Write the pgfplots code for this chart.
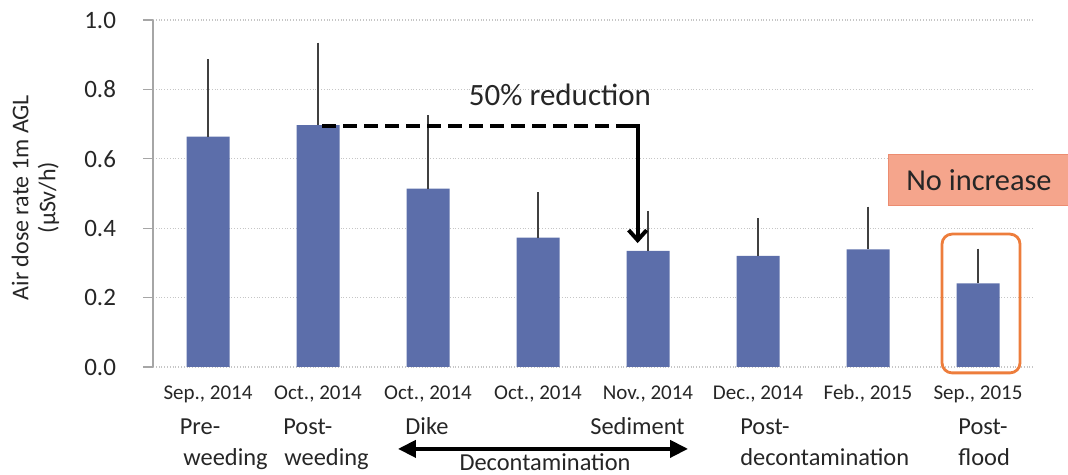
\documentclass[border=0pt]{standalone}
\usepackage{fontspec}
\setmainfont{Carlito}
\usepackage{pgfplots}
\pgfplotsset{compat=1.18}
\usetikzlibrary{arrows.meta}
\definecolor{barblue}{RGB}{92,110,170}
\definecolor{boxorange}{RGB}{237,125,60}
\definecolor{salmon}{RGB}{245,165,140}
\definecolor{salmonedge}{RGB}{236,140,112}
\begin{document}
\begin{tikzpicture}
\path[use as bounding box] (0,0) rectangle (534pt,237.5pt);
\begin{axis}[
  at={(76.5pt,54pt)}, anchor=south west,
  scale only axis, width=440pt, height=173.5pt,
  xmin=-0.5, xmax=7.5, ymin=0, ymax=1.0,
  axis x line=bottom, axis y line=left,
  axis line style={-},
  x axis line style={draw=none},
  y axis line style={gray!70, line width=0.6pt},
  ytick={0,0.2,...,1.0},
  /pgf/number format/fixed, /pgf/number format/fixed zerofill, /pgf/number format/precision=1,
  /pgf/number format/assume math mode=true,
  yticklabel style={font=\fontsize{12.5}{14}\selectfont, text=black!85, xshift=-10pt},
  tick align=outside, major tick length=5pt,
  ytick style={gray!70, line width=0.6pt},
  xtick={0,...,7}, xtick style={draw=none},
  xticklabels={{Sep., 2014},{Oct., 2014},{Oct., 2014},{Oct., 2014},{Nov., 2014},{Dec., 2014},{Feb., 2015},{Sep., 2015}},
  xticklabel style={font=\fontsize{10.5}{12}\selectfont, text=black!85, anchor=base, yshift=-11pt},
  ymajorgrids, major grid style={gray!45, densely dotted, line width=0.6pt},
  clip=false,
]
\addplot[ybar, bar width=21.5pt, fill=barblue, draw=none,
  error bars/.cd, y dir=plus, y explicit, error mark=none,
  error bar style={line width=0.6pt, black!75}]
  table[x=x, y=y, y error=e] {
x y e
0 0.664 0.223
1 0.697 0.238
2 0.514 0.212
3 0.373 0.130
4 0.335 0.115
5 0.320 0.108
6 0.339 0.123
7 0.241 0.100
};
% y label
\node[rotate=90, align=center, font=\fontsize{12}{13.5}\selectfont, text=black!85] at (axis description cs:-0.1335,0.488) {Air dose rate 1m AGL\\(µSv/h)};
% reduction annotation
\draw[line width=2pt, dash pattern=on 7pt off 3.5pt] (axis cs:1.04,0.695) -- (axis cs:3.85,0.695);
\draw[line width=2pt, line join=miter, -{Straight Barb[length=5pt,width=9pt,line width=2pt]}] (axis cs:3.80,0.695) -- (axis cs:3.906,0.695) -- (axis cs:3.906,0.357);
\node[anchor=base, font=\fontsize{15.5}{18}\selectfont, text=black!85] at (axis cs:3.2,0.755) {50\% reduction};
% no increase
\draw[salmonedge, fill=salmon, line width=0.5pt] (axis cs:6.182,0.464) rectangle (axis cs:8.2,0.611);
\node[anchor=base west, font=\fontsize{15.2}{18}\selectfont, text=black!85, inner sep=0pt] at (axis cs:6.345,0.510) {No increase};
\draw[boxorange, line width=1.4pt, rounded corners=5pt] (axis cs:6.673,-0.017) rectangle (axis cs:7.382,0.383);
% categories
\begin{scope}[every node/.style={font=\fontsize{12.2}{14}\selectfont, text=black!85, inner sep=0pt}]
\node[anchor=base west] at (axis cs:-0.26,-0.195) {Pre-};
\node[anchor=base west] at (axis cs:-0.227,-0.285) {weeding};
\node[anchor=base west] at (axis cs:0.681,-0.195) {Post-};
\node[anchor=base west] at (axis cs:0.691,-0.285) {weeding};
\node[anchor=base west] at (axis cs:1.791,-0.195) {Dike};
\node[anchor=base east] at (axis cs:4.336,-0.195) {Sediment};
\node[anchor=base] at (axis cs:3.064,-0.298) {Decontamination};
\node[anchor=base west] at (axis cs:4.836,-0.195) {Post-};
\node[anchor=base west] at (axis cs:4.836,-0.285) {decontamination};
\node[anchor=base west] at (axis cs:6.818,-0.195) {Post-};
\node[anchor=base west] at (axis cs:6.818,-0.285) {flood};
\end{scope}
\draw[line width=2pt, {Triangle[length=9pt,width=8.5pt]}-{Triangle[length=9pt,width=8.5pt]}] (axis cs:1.727,-0.236) -- (axis cs:4.364,-0.236);
\end{axis}
\end{tikzpicture}
\end{document}
